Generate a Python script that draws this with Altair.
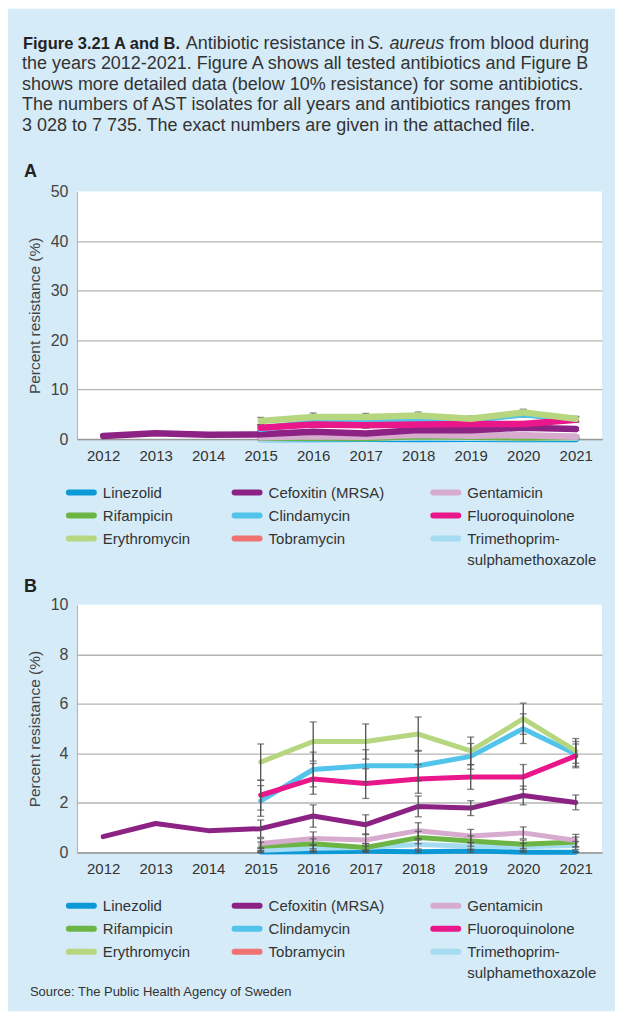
import altair as alt
import pandas as pd

# ---------------- data ----------------
years = ["2012", "2013", "2014", "2015", "2016", "2017", "2018", "2019", "2020", "2021"]

antibiotics = ["Linezolid", "Cefoxitin (MRSA)", "Gentamicin",
               "Rifampicin", "Clindamycin", "Fluoroquinolone",
               "Erythromycin", "Tobramycin", "Trimethoprim-sulphamethoxazole"]
colors = ["#0b9ad7", "#8c2384", "#d6abcd",
          "#6cb545", "#52c3ea", "#e9178a",
          "#b6d77f", "#f07272", "#a6dcf2"]

# percent resistance per year (None = not reported)
linezolid = [None, None, None, 0.02, 0.03, 0.05, 0.03, 0.06, 0.01, 0.01]
cefoxitin = [0.64, 1.17, 0.88, 0.96, 1.47, 1.12, 1.86, 1.79, 2.30, 2.02]
gentamicin = [None, None, None, 0.36, 0.56, 0.50, 0.88, 0.66, 0.79, 0.48]
rifampicin = [None, None, None, 0.25, 0.35, 0.20, 0.60, 0.46, 0.33, 0.42]
clindamycin = [None, None, None, 2.08, 3.35, 3.50, 3.50, 3.88, 5.00, 3.98]
fluoroquinolone = [None, None, None, 2.31, 2.97, 2.78, 2.97, 3.05, 3.05, 3.90]
erythromycin = [None, None, None, 3.65, 4.48, 4.48, 4.78, 4.10, 5.40, 4.10]
tobramycin = [None, None, None, None, None, None, None, None, None, None]
trimethoprim = [None, None, None, 0.09, 0.17, 0.20, 0.32, 0.25, 0.23, 0.28]

# half-width of the 95% confidence interval (error bars)
linezolid_err = [None, None, None, 0.03, 0.05, 0.06, 0.05, 0.07, 0.03, 0.03]
cefoxitin_err = [None, None, None, 0.35, 0.45, 0.40, 0.42, 0.30, 0.38, 0.30]
gentamicin_err = [None, None, None, 0.20, 0.27, 0.25, 0.32, 0.27, 0.24, 0.25]
rifampicin_err = [None, None, None, 0.17, 0.20, 0.16, 0.25, 0.21, 0.17, 0.20]
clindamycin_err = [None, None, None, 0.62, 0.70, 0.65, 0.62, 0.52, 0.60, 0.50]
fluoroquinolone_err = [None, None, None, 0.60, 0.62, 0.60, 0.58, 0.50, 0.50, 0.48]
erythromycin_err = [None, None, None, 0.73, 0.79, 0.71, 0.69, 0.56, 0.63, 0.50]
tobramycin_err = [None, None, None, None, None, None, None, None, None, None]
trimethoprim_err = [None, None, None, 0.10, 0.14, 0.15, 0.18, 0.15, 0.14, 0.16]

values = [linezolid, cefoxitin, gentamicin, rifampicin, clindamycin,
          fluoroquinolone, erythromycin, tobramycin, trimethoprim]
errors = [linezolid_err, cefoxitin_err, gentamicin_err, rifampicin_err, clindamycin_err,
          fluoroquinolone_err, erythromycin_err, tobramycin_err, trimethoprim_err]

# order in which the lines are stacked (first = bottom)
draw_order = ["Linezolid", "Trimethoprim-sulphamethoxazole", "Rifampicin", "Gentamicin",
              "Tobramycin", "Cefoxitin (MRSA)", "Clindamycin", "Fluoroquinolone",
              "Erythromycin"]

title_bold = "Figure 3.21 A and B."
title_normal_1 = ["Antibiotic resistance in", "from blood during"]
title_italic = "S. aureus"
title_rest = [
    "the years 2012-2021. Figure A shows all tested antibiotics and Figure B",
    "shows more detailed data (below 10% resistance) for some antibiotics.",
    "The numbers of AST isolates for all years and antibiotics ranges from",
    "3 028 to 7 735. The exact numbers are given in the attached file.",
]
y_title = "Percent resistance (%)"
source_text = "Source: The Public Health Agency of Sweden"

# ---------------- table ----------------
rows = []
for name, vals, errs in zip(antibiotics, values, errors):
    for yr, v, e in zip(years, vals, errs):
        if v is None:
            continue
        lo = max(0.0, v - e) if e is not None else None
        hi = v + e if e is not None else None
        rows.append({"year": yr, "antibiotic": name, "value": v, "lo": lo, "hi": hi})
df = pd.DataFrame(rows)

BG = "#d5ebf8"
FONT = "Liberation Sans"
TXT = "#333333"
PW, PH = 526, 248

color_scale = alt.Scale(domain=antibiotics, range=colors)


def panel(ymax, step, sw, bars_on_top):
    x = alt.X("year:O", scale=alt.Scale(type="point", domain=years, padding=0.5),
              axis=alt.Axis(title=None, labelAngle=0, ticks=False, grid=False,
                            domainColor="#9a9a9a", domainWidth=1.5,
                            labelFontSize=15, labelPadding=9, labelColor=TXT))
    yaxis = alt.Axis(values=list(range(0, ymax + 1, step)), title=y_title,
                     titleFontSize=15.5, titleFontWeight="normal", titleColor="#444444",
                     titlePadding=8, labelFontSize=16, labelColor="#444444",
                     labelPadding=9, ticks=False, domainColor="#ababab", domainWidth=1,
                     gridColor=alt.condition(f"datum.value >= {ymax}",
                                             alt.value("transparent"), alt.value("#b4b4b4")),
                     gridWidth=1.3)
    yscale = alt.Scale(domain=[0, ymax], nice=False, zero=True)
    base = alt.Chart(df)
    lines = []
    for name in draw_order:
        lines.append(
            base.transform_filter(alt.datum.antibiotic == name)
            .mark_line(strokeWidth=sw, strokeCap="round", strokeJoin="round")
            .encode(x=x, y=alt.Y("value:Q", scale=yscale, axis=yaxis),
                    color=alt.Color("antibiotic:N", scale=color_scale, legend=None))
        )
    err = base.transform_filter("isValid(datum.lo)")
    bars = [
        err.mark_rule(color="#505050", strokeWidth=1.3).encode(
            x=x, y=alt.Y("lo:Q", scale=yscale, axis=yaxis), y2="hi:Q"),
        err.mark_tick(color="#505050", thickness=1.3, size=7).encode(
            x=x, y=alt.Y("lo:Q", scale=yscale, axis=yaxis)),
        err.mark_tick(color="#505050", thickness=1.3, size=7).encode(
            x=x, y=alt.Y("hi:Q", scale=yscale, axis=yaxis)),
    ]
    layers = lines + bars if bars_on_top else bars + lines
    return alt.layer(*layers).properties(
        width=PW, height=PH, view=alt.ViewBackground(fill="white", strokeWidth=0))


one = alt.Data(values=[{}])

# ---------------- title cell ----------------
frame = alt.Chart(one).mark_rect(color=BG).encode(
    x=alt.value(-69), x2=alt.value(539), y=alt.value(-22), y2=alt.value(982))

bold_df = pd.DataFrame({"text": [title_bold], "px": [-54], "py": [18]})
ital_df = pd.DataFrame({"text": [title_italic], "px": [291], "py": [18]})
norm_df = pd.DataFrame({
    "text": title_normal_1 + title_rest,
    "px": [109, 373, -55, -55, -55, -55],
    "py": [18, 18, 38.5, 59, 79.5, 100],
})


def text_layer(d, color=TXT, size=18, **kw):
    return alt.Chart(d).mark_text(align="left", baseline="alphabetic", fontSize=size,
                                  color=color, **kw).encode(
        x=alt.X("px:Q", scale=None), y=alt.Y("py:Q", scale=None), text="text:N")


title_cell = alt.layer(
    frame,
    text_layer(bold_df, color="#222222", size=16.5, fontWeight="bold"),
    text_layer(norm_df),
    text_layer(ital_df, fontStyle="italic"),
    alt.Chart(one).mark_text(text="A", align="left", baseline="alphabetic", fontSize=18,
                             fontWeight="bold", color="#222222").encode(
        x=alt.value(-53), y=alt.value(146)),
).properties(width=PW, height=161)

# ---------------- legends ----------------
col_x = [-11, 155, 354]
leg_rows = []
for i, name in enumerate(antibiotics):
    col, row = i % 3, i // 3
    label = name.replace("-", "-\n")
    leg_rows.append({"antibiotic": name, "label": label,
                     "sx": col_x[col] + 3, "sx2": col_x[col] + 28,
                     "sy": 53.5 + 23 * row, "ty": 59 + 23 * row,
                     "tx": col_x[col] + 37})
leg_df = pd.DataFrame(leg_rows)


def legend(extra, height):
    sym = alt.Chart(leg_df).mark_rule(strokeWidth=6, strokeCap="round").encode(
        x=alt.X("sx:Q", scale=None), x2="sx2:Q", y=alt.Y("sy:Q", scale=None),
        color=alt.Color("antibiotic:N", scale=color_scale, legend=None))
    txt = alt.Chart(leg_df).mark_text(align="left", baseline="alphabetic", fontSize=15,
                                      color=TXT, lineBreak="\n", lineHeight=21).encode(
        x=alt.X("tx:Q", scale=None), y=alt.Y("ty:Q", scale=None), text="label:N")
    return alt.layer(sym, txt, *extra).properties(width=PW, height=height)


legA = legend([alt.Chart(one).mark_text(text="B", align="left", baseline="alphabetic",
                                        fontSize=18, fontWeight="bold",
                                        color="#222222").encode(
    x=alt.value(-53), y=alt.value(153))], 166)
legB = legend([alt.Chart(one).mark_text(text=source_text, align="left",
                                        baseline="alphabetic", fontSize=13,
                                        color=TXT).encode(
    x=alt.value(-47), y=alt.value(144))], 150)

chart = alt.vconcat(
    title_cell, panel(50, 10, 6.5, False), legA, panel(10, 2, 5, True), legB,
    spacing=0, bounds="flush",
).properties(padding=0).configure(font=FONT).configure_view(strokeWidth=0)

chart.save("out.html", embed_options={"renderer": "svg", "actions": False})
